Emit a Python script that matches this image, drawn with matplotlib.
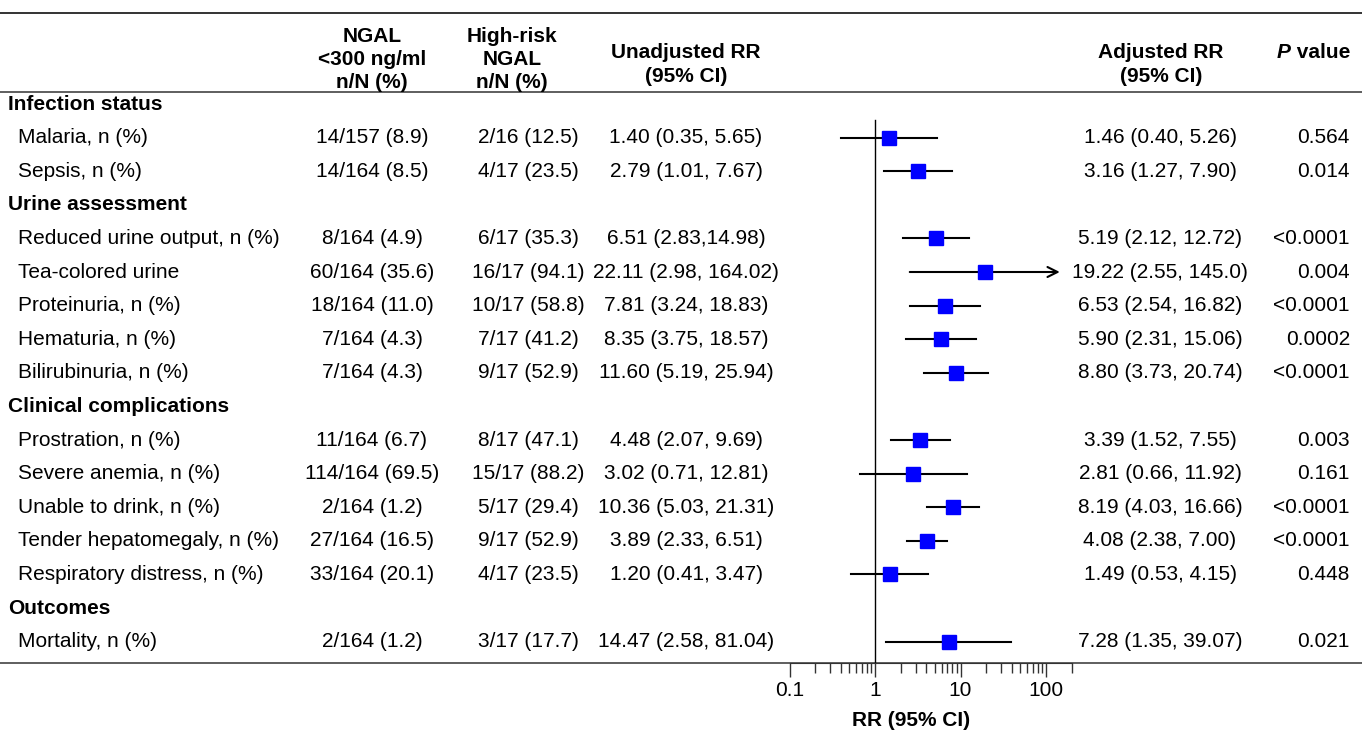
import matplotlib
matplotlib.use("Agg")
import matplotlib.pyplot as plt
import numpy as np

plt.rcParams['font.family'] = ['Liberation Sans', 'DejaVu Sans']

# ----------------------------------------------------------------------
# Data
# ----------------------------------------------------------------------
sections = ["Infection status", "Urine assessment", "Clinical complications", "Outcomes"]
section_rows = [0, 3, 9, 15]

labels = ["Malaria, n (%)", "Sepsis, n (%)",
          "Reduced urine output, n (%)", "Tea-colored urine", "Proteinuria, n (%)",
          "Hematuria, n (%)", "Bilirubinuria, n (%)",
          "Prostration, n (%)", "Severe anemia, n (%)", "Unable to drink, n (%)",
          "Tender hepatomegaly, n (%)", "Respiratory distress, n (%)",
          "Mortality, n (%)"]
item_rows = [1, 2, 4, 5, 6, 7, 8, 10, 11, 12, 13, 14, 16]

low_ngal = ["14/157 (8.9)", "14/164 (8.5)",
            "8/164 (4.9)", "60/164 (35.6)", "18/164 (11.0)", "7/164 (4.3)", "7/164 (4.3)",
            "11/164 (6.7)", "114/164 (69.5)", "2/164 (1.2)", "27/164 (16.5)", "33/164 (20.1)",
            "2/164 (1.2)"]
high_ngal = ["2/16 (12.5)", "4/17 (23.5)",
             "6/17 (35.3)", "16/17 (94.1)", "10/17 (58.8)", "7/17 (41.2)", "9/17 (52.9)",
             "8/17 (47.1)", "15/17 (88.2)", "5/17 (29.4)", "9/17 (52.9)", "4/17 (23.5)",
             "3/17 (17.7)"]
unadj = ["1.40 (0.35, 5.65)", "2.79 (1.01, 7.67)",
         "6.51 (2.83,14.98)", "22.11 (2.98, 164.02)", "7.81 (3.24, 18.83)",
         "8.35 (3.75, 18.57)", "11.60 (5.19, 25.94)",
         "4.48 (2.07, 9.69)", "3.02 (0.71, 12.81)", "10.36 (5.03, 21.31)",
         "3.89 (2.33, 6.51)", "1.20 (0.41, 3.47)",
         "14.47 (2.58, 81.04)"]
adj_rr = [1.46, 3.16, 5.19, 19.22, 6.53, 5.90, 8.80, 3.39, 2.81, 8.19, 4.08, 1.49, 7.28]
adj_lo = [0.40, 1.27, 2.12, 2.55, 2.54, 2.31, 3.73, 1.52, 0.66, 4.03, 2.38, 0.53, 1.35]
adj_hi = [5.26, 7.90, 12.72, 145.0, 16.82, 15.06, 20.74, 7.55, 11.92, 16.66, 7.00, 4.15, 39.07]
adj_txt = ["1.46 (0.40, 5.26)", "3.16 (1.27, 7.90)",
           "5.19 (2.12, 12.72)", "19.22 (2.55, 145.0)", "6.53 (2.54, 16.82)",
           "5.90 (2.31, 15.06)", "8.80 (3.73, 20.74)",
           "3.39 (1.52, 7.55)", "2.81 (0.66, 11.92)", "8.19 (4.03, 16.66)",
           "4.08 (2.38, 7.00)", "1.49 (0.53, 4.15)",
           "7.28 (1.35, 39.07)"]
p_values = ["0.564", "0.014",
            "<0.0001", "0.004", "<0.0001", "0.0002", "<0.0001",
            "0.003", "0.161", "<0.0001", "<0.0001", "0.448",
            "0.021"]
arrow_rows = ["Tea-colored urine"]  # CI continues past the plotted range

xticks_major = [0.1, 1, 10, 100]
xtick_labels = ["0.1", "1", "10", "100"]

# ----------------------------------------------------------------------
# Layout (pixel coordinates of a 1362x734 canvas)
# ----------------------------------------------------------------------
W, H = 1362, 734
FS = 15


def row_y(k):
    return 104 + 33.6 * k


fig = plt.figure(figsize=(W / 100, H / 100), dpi=100)

# Text / table layer
ax_t = fig.add_axes([0, 0, 1, 1])
ax_t.set_xlim(0, W)
ax_t.set_ylim(H, 0)
ax_t.axis('off')

# Horizontal rules
for yy, lw in [(13, 1.4), (92, 1.1), (663, 1.1)]:
    ax_t.plot([0, W], [yy, yy], color='#333333', lw=lw, solid_capstyle='butt')

# Headers
hdr = dict(fontsize=FS, fontweight='bold', ha='center', va='center')
for i, s in enumerate(["NGAL", "<300 ng/ml", "n/N (%)"]):
    ax_t.text(372, 36 + 23.5 * i, s, **hdr)
for i, s in enumerate(["High-risk", "NGAL", "n/N (%)"]):
    ax_t.text(512, 36 + 23.5 * i, s, **hdr)
for i, s in enumerate(["Unadjusted RR", "(95% CI)"]):
    ax_t.text(686, 52 + 24 * i, s, **hdr)
for i, s in enumerate(["Adjusted RR", "(95% CI)"]):
    ax_t.text(1161, 52 + 24 * i, s, **hdr)
t_val = ax_t.text(1350, 52, " value", fontsize=FS, fontweight='bold', ha='right', va='center')
fig.canvas.draw()
bb = t_val.get_window_extent()
ax_t.text(bb.x0, 52, "P", fontsize=FS, fontweight='bold', fontstyle='italic',
          ha='right', va='center')

# Section titles
for s, r in zip(sections, section_rows):
    ax_t.text(8, row_y(r), s, fontsize=FS, fontweight='bold', ha='left', va='center')

# Table rows
for i, r in enumerate(item_rows):
    y = row_y(r)
    ax_t.text(18, y, labels[i], fontsize=FS, ha='left', va='center')
    ax_t.text(372, y, low_ngal[i], fontsize=FS, ha='center', va='center')
    ax_t.text(528, y, high_ngal[i], fontsize=FS, ha='center', va='center')
    ax_t.text(686, y, unadj[i], fontsize=FS, ha='center', va='center')
    ax_t.text(1160, y, adj_txt[i], fontsize=FS, ha='center', va='center')
    ax_t.text(1350, y, p_values[i], fontsize=FS, ha='right', va='center')

# Forest plot axes: 1 at x=875 px, one decade = 85.5 px
x_left, x_right = 760, 1090
ax = fig.add_axes([x_left / W, (H - 663) / H, (x_right - x_left) / W, (663 - 92) / H])
ax.patch.set_alpha(0)
ax.set_xscale('log')
ax.set_xlim(10 ** ((x_left - 875) / 85.5), 10 ** ((x_right - 875) / 85.5))
ax.set_ylim(663, 92)
for sp in ['top', 'right', 'left']:
    ax.spines[sp].set_visible(False)
ax.spines['bottom'].set_bounds(0.1, 200)
ax.spines['bottom'].set_color('#333333')
ax.set_yticks([])

minor = [m * 10.0 ** e for e in (-1, 0, 1) for m in range(2, 10)] + [200]
ax.set_xticks(xticks_major)
ax.set_xticklabels(xtick_labels, fontsize=FS)
ax.set_xticks(minor, minor=True)
ax.xaxis.set_minor_formatter(plt.NullFormatter())
ax.tick_params(axis='x', which='major', length=10, width=1, pad=3, color='#333333')
ax.tick_params(axis='x', which='minor', length=7, width=1, color='#333333')

# Reference line at RR = 1
ax.plot([1, 1], [120, 663], color='black', lw=1.0)

for i, r in enumerate(item_rows):
    y = row_y(r)
    if labels[i] in arrow_rows:
        ax.annotate("", xy=(adj_hi[i], y), xytext=(adj_lo[i], y),
                    arrowprops=dict(arrowstyle='->', color='black', lw=1.5,
                                    mutation_scale=18, shrinkA=0, shrinkB=0))
    else:
        ax.plot([adj_lo[i], adj_hi[i]], [y, y], color='black', lw=1.5)
    ax.plot(adj_rr[i], y, marker='s', markersize=10, color='#0000ff',
            markeredgecolor='#0000ff', zorder=3)

ax_t.text(911, 720, "RR (95% CI)", fontsize=FS, fontweight='bold', ha='center', va='center')

fig.savefig("out.png", dpi=100)
